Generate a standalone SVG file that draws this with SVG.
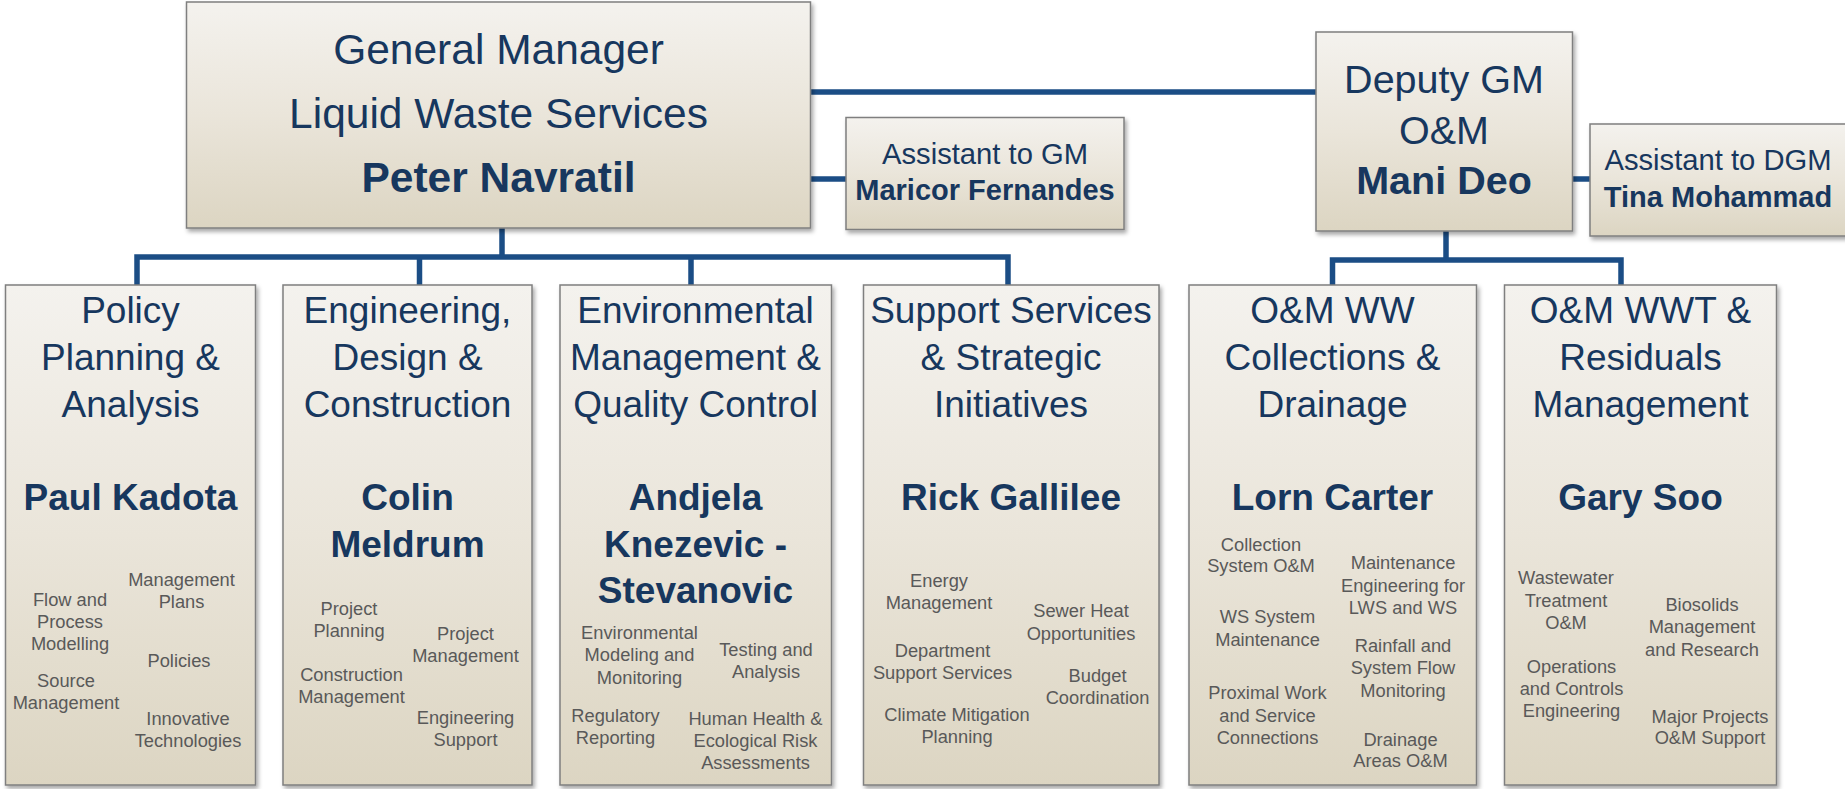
<svg xmlns="http://www.w3.org/2000/svg" width="1845" height="789" viewBox="0 0 1845 789">
<defs>
<linearGradient id="bg" x1="0" y1="0" x2="0" y2="1">
<stop offset="0" stop-color="#F4F2EE"/>
<stop offset="0.5" stop-color="#EAE5DA"/>
<stop offset="1" stop-color="#DCD5C2"/>
</linearGradient>
<filter id="sh" x="-5%" y="-5%" width="115%" height="115%">
<feDropShadow dx="2" dy="3" stdDeviation="2" flood-color="#000" flood-opacity="0.35"/>
</filter>
</defs>
<style>
.box{fill:url(#bg);stroke:#7F7F7F;stroke-width:1.5;filter:url(#sh)}
text{font-family:"Liberation Sans",Arial,sans-serif;text-anchor:middle}
.t{fill:#17375E}
.b{fill:#17375E;font-weight:bold}
.s{fill:#595959;font-size:18.3px}
.ttl{font-size:37px}
.con{fill:none;stroke:#1B4D85;stroke-width:5.5;stroke-linejoin:miter;stroke-linecap:butt}
</style>
<rect width="1845" height="789" fill="#FFFFFF"/>
<g id="connectors">
<path class="con" d="M810 92H1316"/>
<path class="con" d="M810 179H846"/>
<path class="con" d="M1572 179H1590"/>
<path class="con" d="M502 228V257"/>
<path class="con" d="M137 285V257H1008V285"/>
<path class="con" d="M419.5 257V285"/>
<path class="con" d="M691 257V285"/>
<path class="con" d="M1446 231V260"/>
<path class="con" d="M1332.5 285V260H1621V285"/>
</g>
<g id="gm">
<rect class="box" x="186.5" y="2" width="624" height="226"/>
<text class="t" x="498.5" y="64" font-size="42.5">General Manager</text>
<text class="t" x="498.5" y="127.5" font-size="42.5">Liquid Waste Services</text>
<text class="b" x="498.5" y="192" font-size="42.5">Peter Navratil</text>
</g>
<g id="asst-gm">
<rect class="box" x="846" y="117.5" width="278" height="112"/>
<text class="t" x="985" y="164" font-size="29.2">Assistant to GM</text>
<text class="b" x="985" y="200" font-size="29">Maricor Fernandes</text>
</g>
<g id="dgm">
<rect class="box" x="1316" y="32" width="256.5" height="199"/>
<text class="t" x="1444" y="92.5" font-size="39.5">Deputy GM</text>
<text class="t" x="1444" y="144" font-size="39.5">O&amp;M</text>
<text class="b" x="1444" y="194" font-size="39.5">Mani Deo</text>
</g>
<g id="asst-dgm">
<rect class="box" x="1590" y="124" width="262" height="112"/>
<text class="t" x="1718" y="170" font-size="29.2">Assistant to DGM</text>
<text class="b" x="1718" y="206.5" font-size="29">Tina Mohammad</text>
</g>
<g id="policy">
<rect class="box" x="5.5" y="285" width="250" height="500"/>
<text class="t ttl" x="130.5" y="323">Policy</text>
<text class="t ttl" x="130.5" y="370">Planning &amp;</text>
<text class="t ttl" x="130.5" y="417">Analysis</text>
<text class="b ttl" x="130.5" y="510">Paul Kadota</text>
<text class="s" x="181.5" y="586">Management</text>
<text class="s" x="181.5" y="608">Plans</text>
<text class="s" x="70" y="606">Flow and</text>
<text class="s" x="70" y="628">Process</text>
<text class="s" x="70" y="650">Modelling</text>
<text class="s" x="179" y="667">Policies</text>
<text class="s" x="66" y="687">Source</text>
<text class="s" x="66" y="709">Management</text>
<text class="s" x="188" y="725">Innovative</text>
<text class="s" x="188" y="747">Technologies</text>
</g>
<g id="engineering">
<rect class="box" x="283" y="285" width="249" height="500"/>
<text class="t ttl" x="407.5" y="323">Engineering,</text>
<text class="t ttl" x="407.5" y="370">Design &amp;</text>
<text class="t ttl" x="407.5" y="417">Construction</text>
<text class="b ttl" x="407.5" y="510">Colin</text>
<text class="b ttl" x="407.5" y="557">Meldrum</text>
<text class="s" x="349" y="615">Project</text>
<text class="s" x="349" y="637">Planning</text>
<text class="s" x="465.5" y="640">Project</text>
<text class="s" x="465.5" y="662">Management</text>
<text class="s" x="351.5" y="681">Construction</text>
<text class="s" x="351.5" y="703">Management</text>
<text class="s" x="465.5" y="724">Engineering</text>
<text class="s" x="465.5" y="746">Support</text>
</g>
<g id="environmental">
<rect class="box" x="560" y="285" width="271.5" height="500"/>
<text class="t ttl" x="695.5" y="323">Environmental</text>
<text class="t ttl" x="695.5" y="370">Management &amp;</text>
<text class="t ttl" x="695.5" y="417">Quality Control</text>
<text class="b ttl" x="695.5" y="510">Andjela</text>
<text class="b ttl" x="695.5" y="557">Knezevic -</text>
<text class="b ttl" x="695.5" y="603">Stevanovic</text>
<text class="s" x="639.5" y="639">Environmental</text>
<text class="s" x="639.5" y="661">Modeling and</text>
<text class="s" x="639.5" y="684">Monitoring</text>
<text class="s" x="766" y="656">Testing and</text>
<text class="s" x="766" y="678">Analysis</text>
<text class="s" x="615.5" y="722">Regulatory</text>
<text class="s" x="615.5" y="744">Reporting</text>
<text class="s" x="755.5" y="725">Human Health &amp;</text>
<text class="s" x="755.5" y="747">Ecological Risk</text>
<text class="s" x="755.5" y="769">Assessments</text>
</g>
<g id="support">
<rect class="box" x="863.5" y="285" width="295.5" height="500"/>
<text class="t ttl" x="1011" y="323">Support Services</text>
<text class="t ttl" x="1011" y="370">&amp; Strategic</text>
<text class="t ttl" x="1011" y="417">Initiatives</text>
<text class="b ttl" x="1011" y="510">Rick Gallilee</text>
<text class="s" x="939" y="587">Energy</text>
<text class="s" x="939" y="609">Management</text>
<text class="s" x="1081" y="617">Sewer Heat</text>
<text class="s" x="1081" y="640">Opportunities</text>
<text class="s" x="942.5" y="657">Department</text>
<text class="s" x="942.5" y="679">Support Services</text>
<text class="s" x="1097.5" y="682">Budget</text>
<text class="s" x="1097.5" y="704">Coordination</text>
<text class="s" x="957" y="721">Climate Mitigation</text>
<text class="s" x="957" y="743">Planning</text>
</g>
<g id="collections">
<rect class="box" x="1189" y="285" width="287.5" height="500"/>
<text class="t ttl" x="1332.5" y="323">O&amp;M WW</text>
<text class="t ttl" x="1332.5" y="370">Collections &amp;</text>
<text class="t ttl" x="1332.5" y="417">Drainage</text>
<text class="b ttl" x="1332.5" y="510">Lorn Carter</text>
<text class="s" x="1261" y="551">Collection</text>
<text class="s" x="1261" y="572">System O&amp;M</text>
<text class="s" x="1403" y="569">Maintenance</text>
<text class="s" x="1403" y="592">Engineering for</text>
<text class="s" x="1403" y="614">LWS and WS</text>
<text class="s" x="1267.5" y="623">WS System</text>
<text class="s" x="1267.5" y="646">Maintenance</text>
<text class="s" x="1403" y="652">Rainfall and</text>
<text class="s" x="1403" y="674">System Flow</text>
<text class="s" x="1403" y="697">Monitoring</text>
<text class="s" x="1267.5" y="699">Proximal Work</text>
<text class="s" x="1267.5" y="722">and Service</text>
<text class="s" x="1267.5" y="744">Connections</text>
<text class="s" x="1400.5" y="746">Drainage</text>
<text class="s" x="1400.5" y="767">Areas O&amp;M</text>
</g>
<g id="residuals">
<rect class="box" x="1504.5" y="285" width="272" height="500"/>
<text class="t ttl" x="1640.5" y="323">O&amp;M WWT &amp;</text>
<text class="t ttl" x="1640.5" y="370">Residuals</text>
<text class="t ttl" x="1640.5" y="417">Management</text>
<text class="b ttl" x="1640.5" y="510">Gary Soo</text>
<text class="s" x="1566" y="584">Wastewater</text>
<text class="s" x="1566" y="607">Treatment</text>
<text class="s" x="1566" y="629">O&amp;M</text>
<text class="s" x="1702" y="611">Biosolids</text>
<text class="s" x="1702" y="633">Management</text>
<text class="s" x="1702" y="656">and Research</text>
<text class="s" x="1571.5" y="673">Operations</text>
<text class="s" x="1571.5" y="695">and Controls</text>
<text class="s" x="1571.5" y="717">Engineering</text>
<text class="s" x="1710" y="723">Major Projects</text>
<text class="s" x="1710" y="744">O&amp;M Support</text>
</g>
</svg>
